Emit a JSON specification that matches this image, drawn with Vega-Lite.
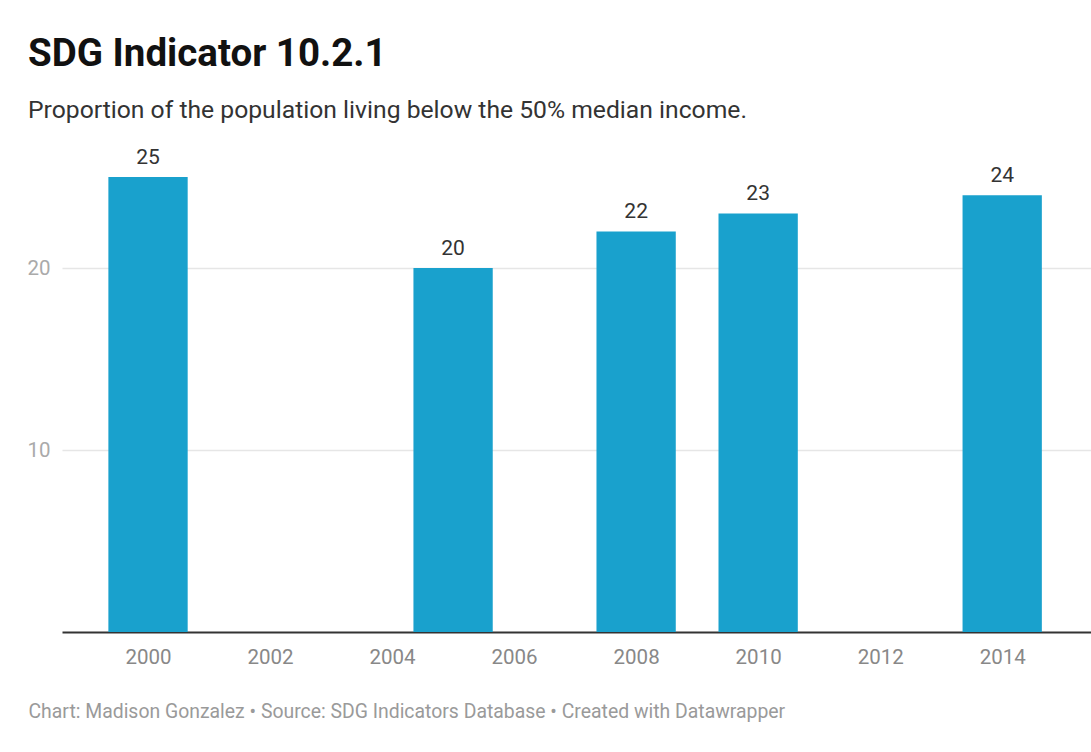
{
  "$schema": "https://vega.github.io/schema/vega-lite/v6.json",
  "width": 1029,
  "height": 455,
  "autosize": "none",
  "padding": {"left": 62, "top": 177, "right": 0, "bottom": 120},
  "background": "#ffffff",
  "title": {
    "text": "SDG Indicator 10.2.1",
    "subtitle": "Proportion of the population living below the 50% median income.",
    "anchor": "start",
    "frame": "group",
    "dx": -34,
    "offset": 23,
    "font": "Roboto",
    "fontSize": 38.5,
    "fontWeight": "bold",
    "color": "#111111",
    "subtitleFont": "Roboto",
    "subtitleFontSize": 24.7,
    "subtitleColor": "#333333",
    "subtitlePadding": 23
  },
  "data": {
    "values": [
      {"year": 2000, "value": 25},
      {"year": 2005, "value": 20},
      {"year": 2008, "value": 22},
      {"year": 2010, "value": 23},
      {"year": 2014, "value": 24}
    ]
  },
  "encoding": {
    "x": {
      "field": "year",
      "type": "quantitative",
      "scale": {"domain": [1998.59, 2015.4555], "nice": false, "zero": false, "padding": 0},
      "axis": {
        "values": [2000, 2002, 2004, 2006, 2008, 2010, 2012, 2014],
        "format": "d",
        "ticks": false,
        "grid": false,
        "domainColor": "#333333",
        "domainWidth": 2,
        "labelFont": "Roboto",
        "labelFontSize": 20.5,
        "labelColor": "#888888",
        "labelPadding": 15,
        "title": "Chart: Madison Gonzalez • Source: SDG Indicators Database • Created with Datawrapper",
        "titleFont": "Roboto",
        "titleFontSize": 19.4,
        "titleFontWeight": "normal",
        "titleColor": "#9a9a9a",
        "titleAnchor": "start",
        "titleAlign": "left",
        "titleBaseline": "alphabetic",
        "titleX": -34,
        "titleY": 85
      }
    },
    "y": {
      "field": "value",
      "type": "quantitative",
      "scale": {"domain": [0, 25], "nice": false},
      "axis": {
        "values": [10, 20],
        "title": null,
        "domain": false,
        "ticks": false,
        "grid": true,
        "gridColor": "#e6e6e6",
        "gridWidth": 1.5,
        "labelFont": "Roboto",
        "labelFontSize": 20.5,
        "labelColor": "#aaaaaa",
        "labelPadding": 12
      }
    }
  },
  "layer": [
    {
      "mark": {"type": "bar", "width": 79.3, "color": "#19a1cd"}
    },
    {
      "mark": {
        "type": "text",
        "baseline": "bottom",
        "dy": -9.5,
        "font": "Roboto",
        "fontSize": 21,
        "color": "#333333"
      },
      "encoding": {"text": {"field": "value", "type": "quantitative"}}
    }
  ],
  "config": {
    "view": {"stroke": null}
  }
}
